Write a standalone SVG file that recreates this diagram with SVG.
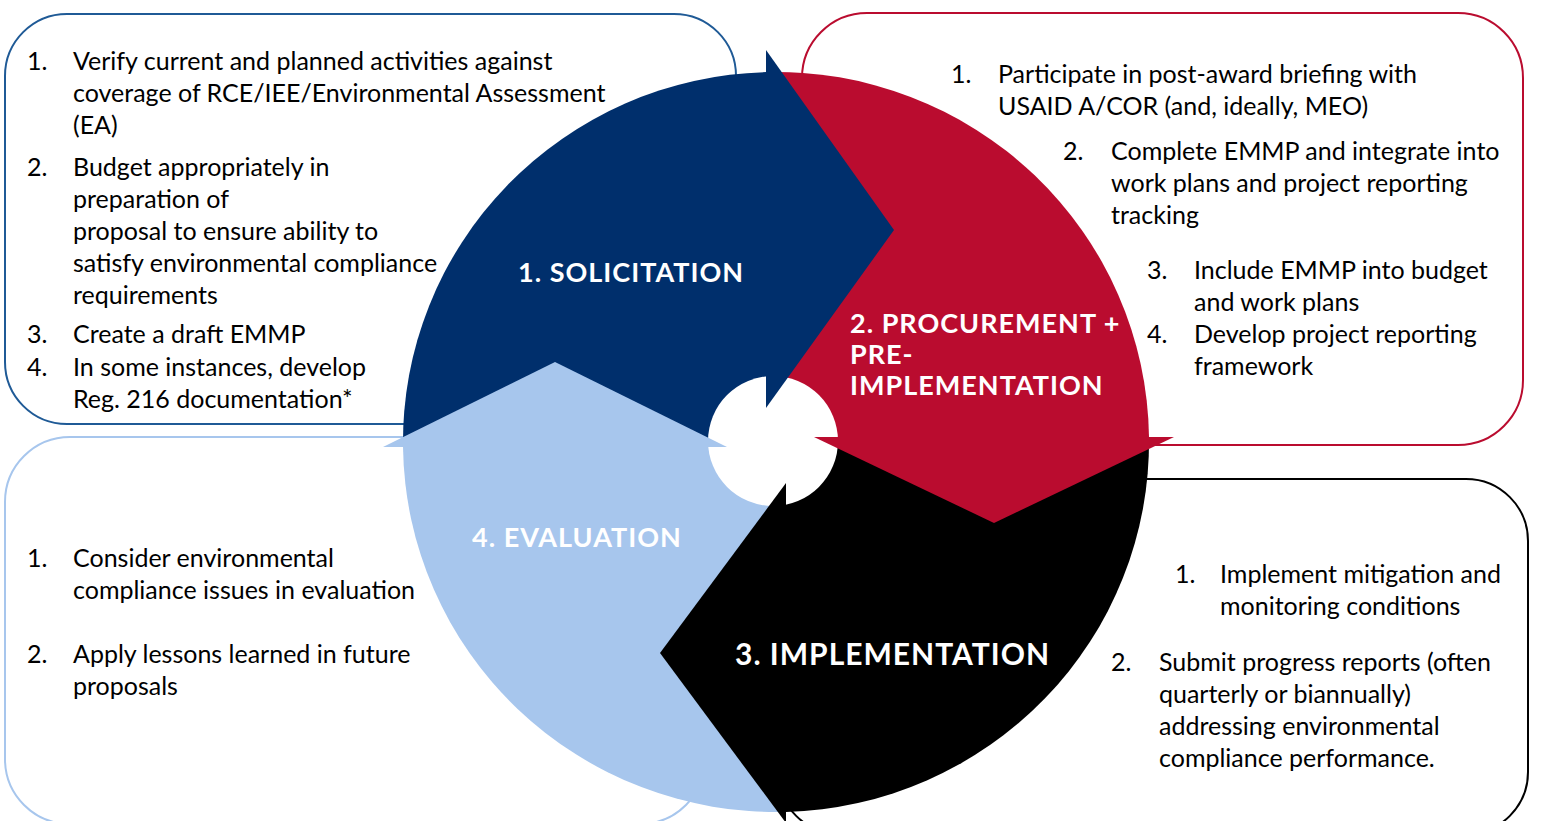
<svg xmlns="http://www.w3.org/2000/svg" width="1548" height="821" viewBox="0 0 1548 821">
<style>
.box{fill:#fff;stroke-width:2}
.t{font-family:Lato,'Liberation Sans',sans-serif;font-size:25px;fill:#000}
.h{font-family:Lato,'Liberation Sans',sans-serif;font-weight:700;font-size:27px;fill:#fff;letter-spacing:1px}
</style>
<rect width="1548" height="821" fill="#fff"/>
<g id="box-solicitation"><rect class="box" x="5" y="14" width="731" height="410" rx="62" stroke="#1F5A96"/></g>
<g id="box-procurement"><rect class="box" x="802" y="13" width="721" height="432" rx="65" stroke="#BA0C2F"/></g>
<g id="box-evaluation"><rect class="box" x="5" y="437" width="700" height="387" rx="65" stroke="#A7C6ED"/></g>
<g id="box-implementation"><rect class="box" x="778" y="479" width="750" height="355" rx="62" stroke="#000"/></g>
<g id="cycle">
<path id="body-solicitation" d="M766 447 L403 447 A373 370 0 0 1 766 72.1 Z" fill="#002F6C"/>
<path id="body-procurement" d="M766 437 L766 72.1 A373 370 0 0 1 1149 437 Z" fill="#BA0C2F"/>
<path id="body-implementation" d="M786 437 L1149 437 A373 370 0 0 1 786 811.9 Z" fill="#000"/>
<path id="body-evaluation" d="M786 447 L786 811.9 A373 370 0 0 1 403 447 Z" fill="#A7C6ED"/>
<circle cx="773" cy="441" r="65" fill="#fff"/>
<polygon id="head-solicitation" points="766,50 894,230 766,408" fill="#002F6C"/>
<polygon id="head-procurement" points="814,437 1174,437 994,523" fill="#BA0C2F"/>
<polygon id="head-implementation" points="786,483 660,653 786,823" fill="#000"/>
<polygon id="head-evaluation" points="383,447 555,362 727,447" fill="#A7C6ED"/>
</g>
<g id="label-solicitation"><text class="h" x="518" y="282">1. SOLICITATION</text></g>
<g id="label-procurement"><text class="h" x="850" y="333">2. PROCUREMENT +</text><text class="h" x="850" y="364">PRE-</text><text class="h" x="850" y="395">IMPLEMENTATION</text></g>
<g id="label-implementation"><text class="h" x="735" y="665" style="font-size:30px">3. IMPLEMENTATION</text></g>
<g id="label-evaluation"><text class="h" x="472" y="547">4. EVALUATION</text></g>
<g id="text-solicitation" class="t">
<text x="27" y="70">1.</text><text x="73" y="70">Verify current and planned activities against</text>
<text x="73" y="102">coverage of RCE/IEE/Environmental Assessment</text>
<text x="73" y="134">(EA)</text>
<text x="27" y="176">2.</text><text x="73" y="176">Budget appropriately in</text>
<text x="73" y="208">preparation of</text>
<text x="73" y="240">proposal to ensure ability to</text>
<text x="73" y="272">satisfy environmental compliance</text>
<text x="73" y="304">requirements</text>
<text x="27" y="343">3.</text><text x="73" y="343">Create a draft EMMP</text>
<text x="27" y="376">4.</text><text x="73" y="376">In some instances, develop</text>
<text x="73" y="408">Reg. 216 documentation*</text>
</g>
<g id="text-procurement" class="t">
<text x="951" y="83">1.</text><text x="998" y="83">Participate in post-award briefing with</text>
<text x="998" y="115">USAID A/COR (and, ideally, MEO)</text>
<text x="1063" y="160">2.</text><text x="1111" y="160">Complete EMMP and integrate into</text>
<text x="1111" y="192">work plans and project reporting</text>
<text x="1111" y="224">tracking</text>
<text x="1147" y="279">3.</text><text x="1194" y="279">Include EMMP into budget</text>
<text x="1194" y="311">and work plans</text>
<text x="1147" y="343">4.</text><text x="1194" y="343">Develop project reporting</text>
<text x="1194" y="375">framework</text>
</g>
<g id="text-evaluation" class="t">
<text x="27" y="567">1.</text><text x="73" y="567">Consider environmental</text>
<text x="73" y="599">compliance issues in evaluation</text>
<text x="27" y="663">2.</text><text x="73" y="663">Apply lessons learned in future</text>
<text x="73" y="695">proposals</text>
</g>
<g id="text-implementation" class="t">
<text x="1175" y="583">1.</text><text x="1220" y="583">Implement mitigation and</text>
<text x="1220" y="615">monitoring conditions</text>
<text x="1111" y="671">2.</text><text x="1159" y="671">Submit progress reports (often</text>
<text x="1159" y="703">quarterly or biannually)</text>
<text x="1159" y="735">addressing environmental</text>
<text x="1159" y="767">compliance performance.</text>
</g>
</svg>
